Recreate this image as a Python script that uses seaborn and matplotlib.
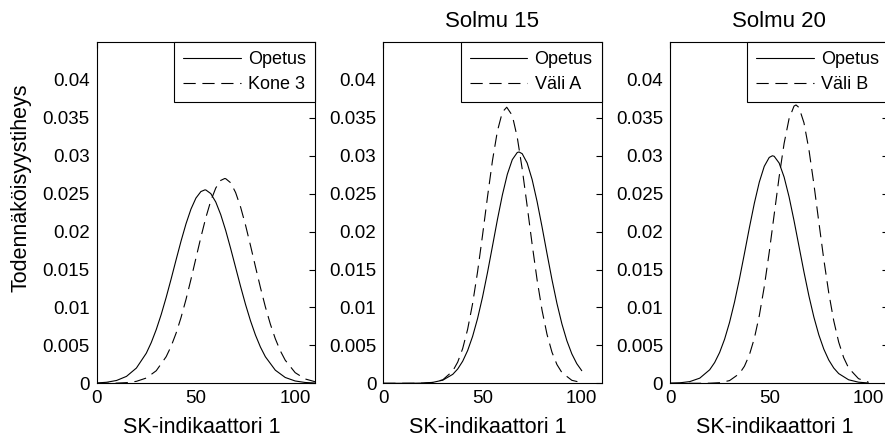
import numpy as np
import pandas as pd
import matplotlib
matplotlib.use('Agg')
import matplotlib.pyplot as plt
from matplotlib.ticker import FuncFormatter
import seaborn as sns

# ==========================================
# Data
# ==========================================
panel_titles = ['', 'Solmu 15', 'Solmu 20']
legend_labels = [('Opetus', 'Kone 3'), ('Opetus', 'Väli A'), ('Opetus', 'Väli B')]
x_label = 'SK-indikaattori 1'
y_label = 'Todennäköisyystiheys'
x_ticks = [0, 50, 100]
y_ticks = [0, 0.005, 0.01, 0.015, 0.02, 0.025, 0.03, 0.035, 0.04]

# Panel 1
x_p1_opetus = [0, 5, 10, 15, 20, 25, 27.5, 30, 32.5, 35, 37.5, 40, 42.5, 45, 47.5,
               50, 52.5, 54.5, 55, 57.5, 60, 62.5, 65, 67.5, 70, 72.5, 75, 77.5,
               80, 82.5, 85, 90, 95, 100, 105, 110]
y_p1_opetus = [0.000045, 0.000136, 0.000372, 0.000911, 0.00201, 0.00397, 0.005375,
               0.00708, 0.00907, 0.01132, 0.01375, 0.01628, 0.01875, 0.02103,
               0.02297, 0.02442, 0.02528, 0.0255, 0.02549, 0.02501, 0.02390,
               0.02224, 0.02015, 0.01777, 0.01527, 0.01277, 0.01039, 0.00824,
               0.00636, 0.00478, 0.00350, 0.00173, 0.000768, 0.000306, 0.000110,
               0.0000354]
x_p1_kone3 = [0, 5, 10, 15, 20, 25, 30, 35, 37.5, 40, 42.5, 45, 47.5, 50, 52.5, 55,
              57.5, 60, 62.5, 64.5, 65, 67.5, 70, 72.5, 75, 77.5, 80, 82.5, 85,
              87.5, 90, 92.5, 95, 100, 105, 110]
y_p1_kone3 = [0.0000016, 0.0000067, 0.0000254, 0.000086, 0.000259, 0.000695,
              0.001655, 0.003507, 0.004884, 0.006605, 0.008675, 0.01106, 0.01371,
              0.01649, 0.01926, 0.02185, 0.02407, 0.02575, 0.02675, 0.0270,
              0.02698, 0.02644, 0.02515, 0.02324, 0.02085, 0.01816, 0.01537,
              0.01263, 0.01007, 0.007806, 0.005876, 0.004293, 0.003045, 0.001405,
              0.000576, 0.00021]

# Panel 2
x_p2_opetus = [0, 5, 10, 15, 20, 25, 30, 35, 37.5, 40, 42.5, 45, 47.5, 50, 52.5,
               55, 57.5, 60, 62.5, 65, 67.5, 68.4, 70, 72.5, 75, 77.5, 80, 82.5,
               85, 87.5, 90, 92.5, 95, 97.5, 100]
y_p2_opetus = [0.0, 0.0000003, 0.0000015, 0.0000075, 0.000033, 0.000126, 0.000415,
               0.001182, 0.001888, 0.002909, 0.00432, 0.006185, 0.00854, 0.01137,
               0.0146, 0.01807, 0.02158, 0.02483, 0.02756, 0.02949, 0.03043,
               0.0305, 0.03027, 0.02904, 0.02686, 0.02396, 0.02061, 0.01709,
               0.01366, 0.01053, 0.00783, 0.005615, 0.00388, 0.002586, 0.001663]
x_p2_vali_a = [0, 5, 10, 15, 20, 25, 30, 35, 37.5, 40, 42.5, 45, 47.5, 50, 52.5,
               55, 57.5, 60, 62.2, 65, 67.5, 70, 72.5, 75, 77.5, 80, 82.5, 85,
               87.5, 90, 95, 100]
y_p2_vali_a = [0.0, 0.0, 0.0000004, 0.0000031, 0.00002, 0.000108, 0.000464,
               0.001622, 0.002799, 0.004585, 0.007128, 0.01051, 0.0147, 0.01951,
               0.02457, 0.02935, 0.03326, 0.03576, 0.0364, 0.03531, 0.03243,
               0.02825, 0.02336, 0.01832, 0.01363, 0.00962, 0.006443, 0.004093,
               0.002469, 0.001411, 0.000394, 0.000089]

# Panel 3
x_p3_opetus = [0, 5, 10, 15, 20, 22.5, 25, 27.5, 30, 32.5, 35, 37.5, 40, 42.5, 45,
               47.5, 50, 51.6, 52.5, 55, 57.5, 60, 62.5, 65, 67.5, 70, 72.5, 75,
               77.5, 80, 82.5, 85, 90, 95, 100]
y_p3_opetus = [0.0000162, 0.000065, 0.000226, 0.00068, 0.001785, 0.002739, 0.00406,
               0.00581, 0.008025, 0.0107, 0.01377, 0.0171, 0.02051, 0.02374,
               0.02653, 0.02861, 0.02978, 0.0300, 0.02993, 0.02904, 0.02719,
               0.02458, 0.02144, 0.01806, 0.01468, 0.01152, 0.008727, 0.00638,
               0.004506, 0.003069, 0.002019, 0.001282, 0.000464, 0.000146, 0.00004]
x_p3_vali_b = [0, 5, 10, 15, 20, 25, 30, 35, 37.5, 40, 42.5, 45, 47.5, 50, 52.5,
               55, 57.5, 60, 62.5, 63.5, 65, 67.5, 70, 72.5, 75, 77.5, 80, 82.5,
               85, 87.5, 90, 95, 100]
y_p3_vali_b = [0.0, 0.0, 0.0000001, 0.0000022, 0.000015, 0.00008, 0.000355,
               0.001279, 0.002247, 0.003747, 0.00593, 0.008922, 0.01274, 0.01728,
               0.02226, 0.02723, 0.03163, 0.03489, 0.03655, 0.0367, 0.03636,
               0.03435, 0.03082, 0.02626, 0.02125, 0.01633, 0.01192, 0.008258,
               0.005435, 0.003396, 0.002016, 0.000608, 0.000149]

panel_series = [
    ((x_p1_opetus, y_p1_opetus), (x_p1_kone3, y_p1_kone3)),
    ((x_p2_opetus, y_p2_opetus), (x_p2_vali_a, y_p2_vali_a)),
    ((x_p3_opetus, y_p3_opetus), (x_p3_vali_b, y_p3_vali_b)),
]

# ==========================================
# Style (MATLAB-like)
# ==========================================
sns.set_style('white')
plt.rcParams.update({
    'font.family': ['Liberation Sans', 'DejaVu Sans'],
    'text.color': 'black',
    'axes.labelcolor': 'black',
    'xtick.color': 'black',
    'ytick.color': 'black',
    'axes.edgecolor': 'black',
    'axes.linewidth': 0.8,
    'lines.scale_dashes': True,
})

fig = plt.figure(figsize=(8.85, 4.41), dpi=100)
W, H = 885.0, 441.0
ax_w = 218.3 / W
ax_h = 341.3 / H
ax_bottom = 1 - 383.3 / H
lefts_px = [96.7, 383.3, 670.0]

for i, (left_px, series) in enumerate(zip(lefts_px, panel_series)):
    ax = fig.add_axes([left_px / W, ax_bottom, ax_w, ax_h])
    (xa, ya), (xb, yb) = series
    lab_a, lab_b = legend_labels[i]
    df_a = pd.DataFrame({'x': xa, 'y': ya})
    df_b = pd.DataFrame({'x': xb, 'y': yb})
    sns.lineplot(data=df_a, x='x', y='y', ax=ax, color='black', linewidth=0.8,
                 estimator=None, sort=False, label=lab_a)
    sns.lineplot(data=df_b, x='x', y='y', ax=ax, color='black', linewidth=0.8,
                 linestyle=(0, (11, 6)), estimator=None, sort=False, label=lab_b)

    ax.set_xlim(0, 110)
    ax.set_ylim(0, 0.045)
    ax.set_xticks(x_ticks)
    ax.set_yticks(y_ticks)
    ax.yaxis.set_major_formatter(FuncFormatter(lambda v, p: '%g' % round(v, 4)))
    ax.tick_params(direction='in', length=4, width=0.8, top=True, right=True,
                   labelsize=13.5, pad=5, colors='black')
    for sp in ax.spines.values():
        sp.set_visible(True)
        sp.set_color('black')
        sp.set_linewidth(0.8)

    ax.set_xlabel(x_label, fontsize=15.5)
    ax.xaxis.set_label_coords(0.48, -0.098)
    if i == 0:
        ax.set_ylabel(y_label, fontsize=15.5)
        ax.yaxis.set_label_coords(-0.30, 0.572)
    else:
        ax.set_ylabel('')
    if panel_titles[i]:
        ax.set_title(panel_titles[i], fontsize=16, pad=11)

    leg = ax.legend(loc='upper right', frameon=True, fancybox=False, framealpha=1,
                    edgecolor='black', borderaxespad=0, fontsize=13, handlelength=3.2,
                    handletextpad=0.4, borderpad=0.5, labelspacing=0.45)
    leg.get_frame().set_linewidth(0.8)

fig.savefig('out.png', dpi=100)
